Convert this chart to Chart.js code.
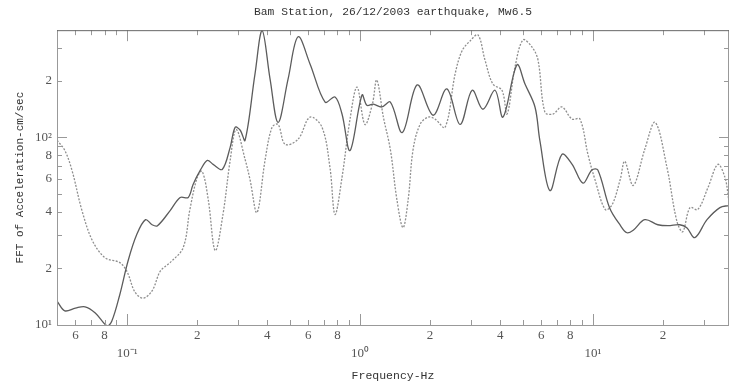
<!DOCTYPE html>
<html>
<head>
<meta charset="utf-8">
<script src="https://cdn.jsdelivr.net/npm/chart.js@4.4.0/dist/chart.umd.min.js"></script>
<style>
  html, body { margin: 0; padding: 0; background: #fff; }
</style>
</head>
<body>
<canvas id="fftChart" width="730" height="387"></canvas>
<script>
// solid trace (darker)
const solidFreq = [0.050, 0.054, 0.060, 0.066, 0.073, 0.082, 0.086, 0.093, 0.101, 0.110, 0.120, 0.128, 0.135, 0.153, 0.169, 0.183, 0.192, 0.206, 0.221, 0.234, 0.256, 0.277, 0.291, 0.306, 0.321, 0.354, 0.380, 0.411, 0.445, 0.491, 0.542, 0.610, 0.708, 0.781, 0.837, 0.906, 1.02, 1.07, 1.14, 1.24, 1.35, 1.52, 1.76, 2.06, 2.36, 2.69, 3.03, 3.37, 3.80, 4.11, 4.72, 5.11, 5.64, 5.92, 6.54, 7.36, 8.13, 9.06, 9.90, 10.5, 11.8, 13.1, 14.0, 14.9, 16.7, 19.0, 21.0, 23.6, 25.3, 27.4, 30.9, 35.1, 38.3];
const solidAmp = [13.4, 11.9, 12.3, 12.5, 11.6, 9.9, 10.5, 14.5, 22.0, 30.3, 36.4, 34.2, 33.8, 40.7, 47.8, 47.8, 56.1, 66.6, 75.3, 71.7, 67.4, 88.4, 113, 109, 96.4, 217, 370, 204, 120, 204, 343, 246, 154, 164, 133, 85, 168, 148, 150, 145, 154, 106, 190, 131, 181, 117, 178, 141, 178, 128, 243, 192, 145, 96, 52, 81, 72, 57, 67, 67, 42, 34, 31, 32, 36.4, 34.2, 33.8, 34.2, 33, 29.2, 36.4, 42.2, 43.3];

// dotted trace (lighter)
const dottedFreq = [0.050, 0.054, 0.058, 0.064, 0.071, 0.0805, 0.093, 0.100, 0.108, 0.117, 0.128, 0.139, 0.153, 0.174, 0.186, 0.200, 0.210, 0.223, 0.239, 0.258, 0.277, 0.294, 0.321, 0.337, 0.361, 0.391, 0.419, 0.445, 0.477, 0.542, 0.610, 0.687, 0.743, 0.781, 0.837, 0.906, 0.971, 1.05, 1.13, 1.18, 1.26, 1.35, 1.44, 1.53, 1.61, 1.69, 1.81, 1.96, 2.10, 2.32, 2.56, 2.74, 2.97, 3.21, 3.44, 3.72, 4.07, 4.28, 4.63, 5.01, 5.47, 5.81, 6.22, 6.74, 7.36, 8.13, 8.80, 9.52, 10.2, 11.3, 12.1, 13.1, 13.7, 14.9, 16.7, 18.5, 20.8, 22.9, 24.3, 26.1, 28.2, 31.2, 34.4, 36.9, 38.3];
const dottedAmp = [96.4, 85.2, 66.6, 40.7, 28.1, 22.8, 21.5, 19.2, 15.0, 13.9, 15.2, 19.4, 21.5, 25.8, 41.2, 61.1, 65.8, 46.6, 24.9, 38.8, 75.3, 110, 76.3, 59.6, 39.7, 75.3, 113, 117, 91.7, 97.6, 128, 113, 69, 38.8, 61.1, 124.8, 185, 117, 150, 202, 128, 86, 46.6, 33, 46.6, 86, 117, 128, 125, 113, 217, 288, 326, 351, 258, 192, 178, 133, 237, 330, 303, 258, 136, 133, 145, 125, 125, 81, 59.6, 41.2, 43.8, 59.6, 74.4, 55.4, 86.3, 120, 69, 36, 31.4, 42.2, 41.2, 54, 71.7, 61.1, 46.6];

// axis ticks
const xTickValues = [0.05, 0.06, 0.07, 0.08, 0.09, 0.1, 0.2, 0.3, 0.4, 0.5, 0.6, 0.7, 0.8, 0.9, 1, 2, 3, 4, 5, 6, 7, 8, 9, 10, 20, 30];
const xTickLabels = ['', '6', '', '8', '', ['', '10\u207B\u00B9'], '2', '', '4', '', '6', '', '8', '', ['', '10\u2070'], '2', '', '4', '', '6', '', '8', '', ['', '10\u00B9'], '2', ''];
const yTickValues = [10, 20, 30, 40, 50, 60, 70, 80, 90, 100, 200, 300];
const yTickLabels = ['10\u00B9', '2', '', '4', '', '6', '', '8', '', '10\u00B2', '2', ''];

function isDecade(v) {
  const l = Math.log10(v);
  return Math.abs(l - Math.round(l)) < 1e-9;
}

// box + inward tick marks like the original plot
const inwardTicks = {
  id: 'inwardTicks',
  afterDraw(chart) {
    const { ctx, chartArea: a, scales: { x, y } } = chart;
    ctx.save();
    ctx.lineWidth = 1;
    ctx.strokeStyle = '#999';
    ctx.beginPath();
    ctx.moveTo(a.left + 0.5, a.top);
    ctx.lineTo(a.left + 0.5, a.bottom + 0.5);
    ctx.lineTo(a.right - 0.5, a.bottom + 0.5);
    ctx.lineTo(a.right - 0.5, a.top);
    xTickValues.forEach(v => {
      const px = Math.round(x.getPixelForValue(v)) + 0.5;
      const len = isDecade(v) ? 11 : 5;
      ctx.moveTo(px, a.bottom); ctx.lineTo(px, a.bottom - len);
      ctx.moveTo(px, a.top); ctx.lineTo(px, a.top + len);
    });
    yTickValues.forEach(v => {
      const py = Math.round(y.getPixelForValue(v)) + 0.5;
      const len = isDecade(v) ? 10 : 5;
      ctx.moveTo(a.left, py); ctx.lineTo(a.left + len, py);
      ctx.moveTo(a.right, py); ctx.lineTo(a.right - len, py);
    });
    ctx.stroke();
    ctx.strokeStyle = '#666';
    ctx.beginPath();
    ctx.moveTo(a.left, a.top + 0.5);
    ctx.lineTo(a.right, a.top + 0.5);
    ctx.stroke();
    ctx.restore();
  }
};

document.addEventListener('DOMContentLoaded', function() {
  const ctx = document.getElementById('fftChart').getContext('2d');

  const data = {
    datasets: [
      {
        label: 'solid',
        data: solidFreq.map((f, i) => ({ x: f, y: solidAmp[i] })),
        borderColor: '#5c5c5c',
        borderWidth: 1.3,
        pointRadius: 0,
        tension: 0.35,
        fill: false
      },
      {
        label: 'dotted',
        data: dottedFreq.map((f, i) => ({ x: f, y: dottedAmp[i] })),
        borderColor: '#8e8e8e',
        borderWidth: 1.3,
        borderDash: [2, 1.5],
        pointRadius: 0,
        tension: 0.35,
        fill: false
      }
    ]
  };

  const config = {
    type: 'line',
    data: data,
    options: {
      responsive: false,
      animation: false,
      layout: { padding: { left: 0, right: 1, top: 0, bottom: 0 } },
      scales: {
        x: {
          type: 'logarithmic',
          min: 0.05,
          max: 38.4,
          grid: { display: false, drawTicks: false },
          border: { display: false },
          afterBuildTicks: scale => { scale.ticks = xTickValues.map(v => ({ value: v })); },
          afterFit: scale => { scale.height = 62; },
          ticks: {
            autoSkip: false,
            maxRotation: 0,
            padding: 2,
            color: '#555',
            font: { family: 'Liberation Serif', size: 13, lineHeight: 18 / 13 },
            callback: (value, index) => xTickLabels[index]
          },
          title: {
            display: true,
            text: 'Frequency-Hz',
            color: '#333',
            font: { family: 'Liberation Mono', size: 11.5 },
            padding: { top: 0, bottom: 4 }
          }
        },
        y: {
          type: 'logarithmic',
          min: 10,
          max: 372,
          grid: { display: false, drawTicks: false },
          border: { display: false },
          afterBuildTicks: scale => { scale.ticks = yTickValues.map(v => ({ value: v })); },
          afterFit: scale => { scale.width = 57; },
          ticks: {
            autoSkip: false,
            padding: 5,
            color: '#555',
            font: { family: 'Liberation Serif', size: 13 },
            callback: (value, index) => yTickLabels[index]
          },
          title: {
            display: true,
            text: 'FFT of Acceleration-cm/sec',
            color: '#333',
            font: { family: 'Liberation Mono', size: 11 },
            padding: { top: 13, bottom: 0 }
          }
        }
      },
      plugins: {
        legend: { display: false },
        tooltip: { enabled: false },
        title: {
          display: true,
          fullSize: false,
          text: 'Bam Station, 26/12/2003 earthquake, Mw6.5',
          color: '#333',
          font: { family: 'Liberation Mono', size: 11.3, weight: 'normal' },
          padding: { top: 5, bottom: 11.6 }
        }
      }
    },
    plugins: [inwardTicks]
  };

  new Chart(ctx, config);
});
</script>
</body>
</html>
